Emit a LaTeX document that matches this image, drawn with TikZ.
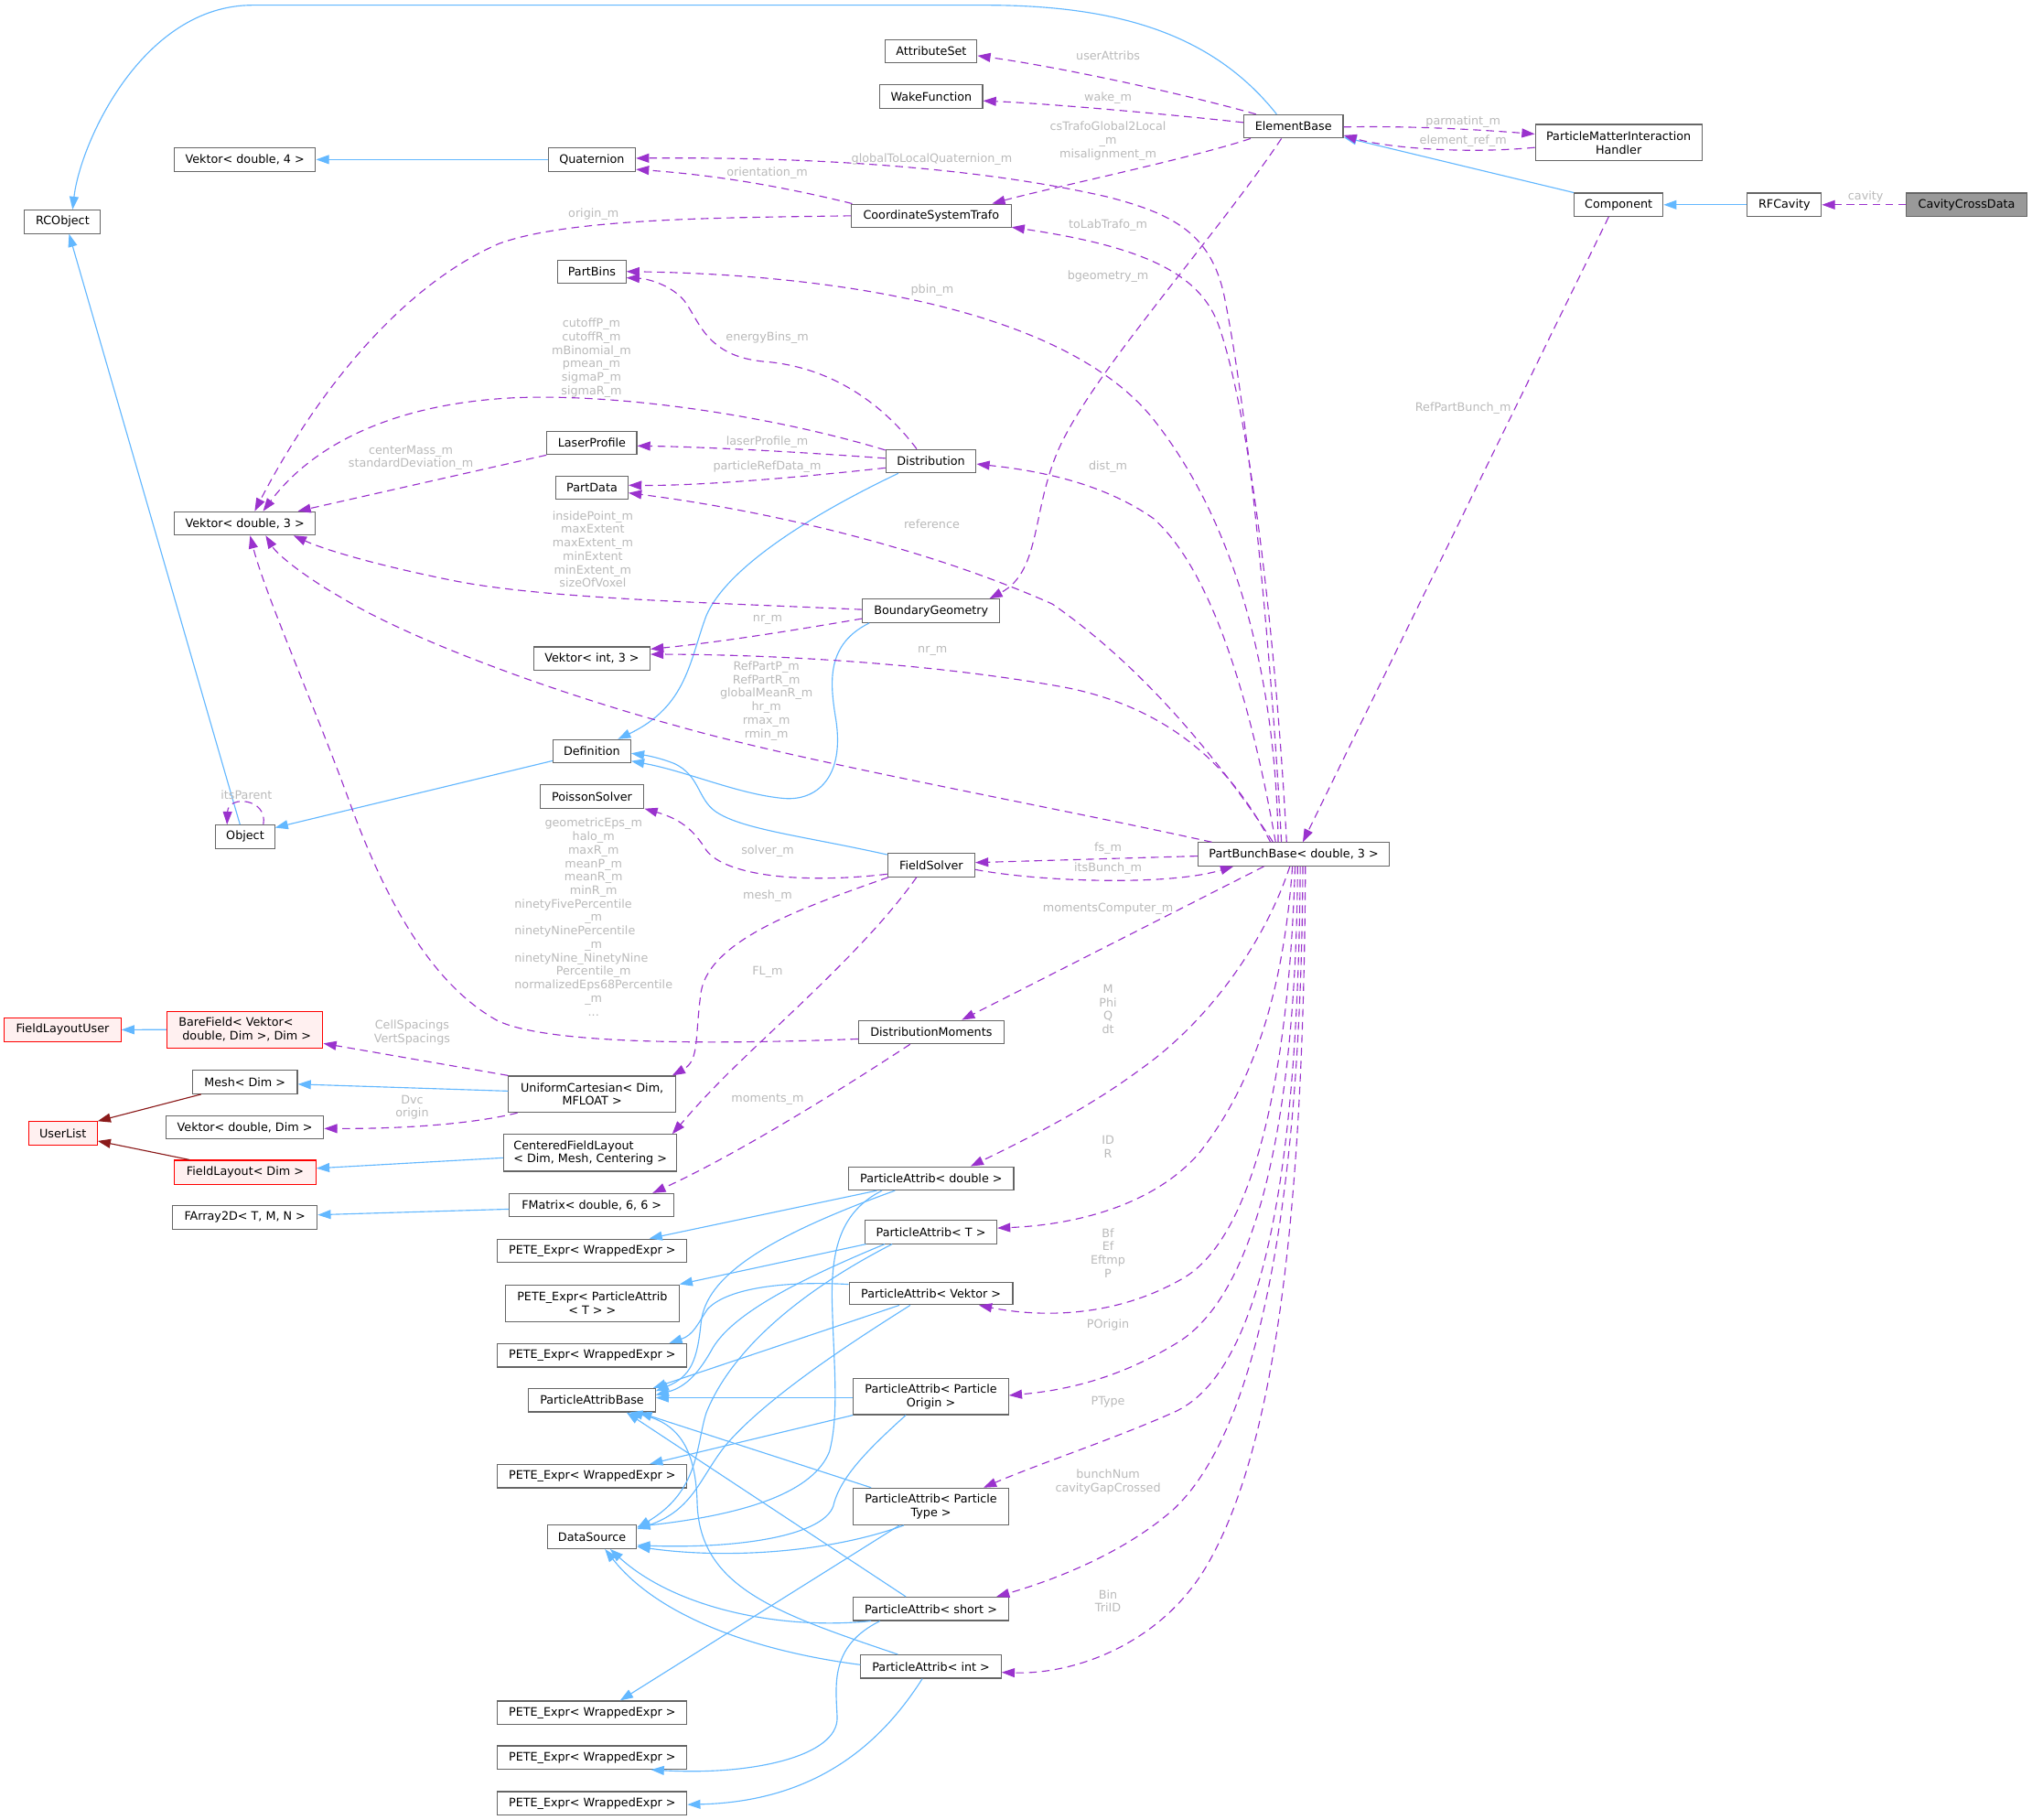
\documentclass[tikz,border=0pt]{standalone}
\usepackage{fontspec}
\setmainfont{DejaVu Sans}
\usetikzlibrary{arrows.meta,calc}
\newcommand{\fs}{\fontsize{9}{10.4}\selectfont}
\definecolor{nb}{HTML}{666666}
\definecolor{inh}{HTML}{63B8FF}
\definecolor{usec}{HTML}{9A32CD}
\definecolor{priv}{HTML}{8B1A1A}
\definecolor{lblc}{HTML}{BABABA}
\definecolor{redfill}{HTML}{FFF0F0}
\definecolor{ccdfill}{HTML}{999999}
\begin{document}
\begin{tikzpicture}[x=1pt,y=-1pt,
  cls/.style={draw=nb, fill=white, line width=0.8pt, inner sep=0pt, font=\fs, text=black, align=center},
  clsred/.style={cls, draw=red, fill=redfill},
  clsgray/.style={cls, fill=ccdfill},
  lbl/.style={inner sep=0pt, font=\fs, text=lblc, align=center},
  lblplain/.style={inner sep=0pt, font=\fs, text=lblc},
  inhe/.style={draw=inh, line width=0.8pt, -{Triangle[length=10pt,width=7pt]}},
  prive/.style={draw=priv, line width=0.8pt, -{Triangle[length=10pt,width=7pt]}},
  usee/.style={draw=usec, line width=0.8pt, dash pattern=on 6pt off 4pt, -{Triangle[length=10pt,width=7pt]}}
]
\fill[white] (0,0) rectangle (1568,1404);
\useasboundingbox (0,0) rectangle (1568,1404);

% ---------- nodes ----------
\node[cls, minimum width=58.6pt, minimum height=18pt] (rco) at (48.3,171.1) {RCObject};
\node[cls, minimum width=109pt, minimum height=18pt] (v4) at (189,123.1) {Vektor< double, 4 >};
\node[cls, minimum width=67.3pt, minimum height=18pt] (quat) at (456.7,123.1) {Quaternion};
\node[cls, minimum width=70.6pt, minimum height=18pt] (attr) at (718.6,39.5) {AttributeSet};
\node[cls, minimum width=79.2pt, minimum height=18pt] (wake) at (718.6,74.4) {WakeFunction};
\node[cls, minimum width=76.6pt, minimum height=18pt] (eb) at (998.1,97.5) {ElementBase};
\node[cls, minimum width=128.6pt, minimum height=28.2pt] (pmih) at (1249,110.1) {ParticleMatterInteraction\\Handler};
\node[cls, minimum width=68.6pt, minimum height=18pt] (comp) at (1249,158) {Component};
\node[cls, minimum width=57.2pt, minimum height=18pt] (rfc) at (1376.9,158) {RFCavity};
\node[clsgray, minimum width=92.6pt, minimum height=18pt] (ccd) at (1517.5,158) {CavityCrossData};
\node[cls, minimum width=123.2pt, minimum height=18pt] (cst) at (718.6,166.5) {CoordinateSystemTrafo};
\node[cls, minimum width=52.6pt, minimum height=18pt] (pbins) at (456.7,209.8) {PartBins};
\node[cls, minimum width=69.3pt, minimum height=18pt] (laser) at (456.7,341.7) {LaserProfile};
\node[cls, minimum width=69.6pt, minimum height=18pt] (dist) at (718.4,355.8) {Distribution};
\node[cls, minimum width=55.7pt, minimum height=18pt] (pdata) at (456.8,376.4) {PartData};
\node[cls, minimum width=109pt, minimum height=18pt] (v3) at (189,403.8) {Vektor< double, 3 >};
\node[cls, minimum width=105.7pt, minimum height=18pt] (bg) at (718.5,471.3) {BoundaryGeometry};
\node[cls, minimum width=89.6pt, minimum height=18pt] (vi3) at (456.8,508.1) {Vektor< int, 3 >};
\node[cls, minimum width=60pt, minimum height=18pt] (defn) at (456.7,579.7) {Definition};
\node[cls, minimum width=80.3pt, minimum height=18pt] (poisson) at (456.8,614.5) {PoissonSolver};
\node[cls, minimum width=45.3pt, minimum height=18pt] (obj) at (189.2,645.6) {Object};
\node[cls, minimum width=67.2pt, minimum height=18pt] (fs) at (718.6,667.4) {FieldSolver};
\node[cls, minimum width=147.7pt, minimum height=18pt] (pbb) at (998.3,659.1) {PartBunchBase< double, 3 >};
\node[cls, minimum width=112pt, minimum height=18pt] (dm) at (718.6,796.3) {DistributionMoments};
\node[clsred, minimum width=90pt, minimum height=18pt] (flu) at (48.3,794.5) {FieldLayoutUser};
\node[clsred, minimum width=120.3pt, minimum height=28.3pt, align=left] (bare) at (189,794.4) {BareField< Vektor<\\\mbox{}\ double, Dim >, Dim >};
\node[cls, minimum width=80.9pt, minimum height=18pt] (mesh) at (189,834.9) {Mesh< Dim >};
\node[cls, minimum width=128.9pt, minimum height=28pt] (uc) at (456.9,844.2) {UniformCartesian< Dim,\\MFLOAT >};
\node[clsred, minimum width=53pt, minimum height=18pt] (ul) at (48.5,874.4) {UserList};
\node[cls, minimum width=121.8pt, minimum height=18pt] (vdim) at (188.9,869.7) {Vektor< double, Dim >};
\node[cls, minimum width=133.6pt, minimum height=28.3pt, align=left] (cfl) at (455.5,889.5) {CenteredFieldLayout\\< Dim, Mesh, Centering >};
\node[clsred, minimum width=109.2pt, minimum height=18.4pt] (fl) at (189.2,904.4) {FieldLayout< Dim >};
\node[cls, minimum width=127pt, minimum height=18pt] (fmat) at (456.6,929.9) {FMatrix< double, 6, 6 >};
\node[cls, minimum width=111.6pt, minimum height=18pt] (farr) at (189,939.3) {FArray2D< T, M, N >};
\node[cls, minimum width=127.2pt, minimum height=18pt] (pad) at (718.6,909.2) {ParticleAttrib< double >};
\node[cls, minimum width=146pt, minimum height=18pt] (pete1) at (457,965) {PETE\_Expr< WrappedExpr >};
\node[cls, minimum width=101.6pt, minimum height=18pt] (pat) at (718.4,950.5) {ParticleAttrib< T >};
\node[cls, minimum width=134pt, minimum height=28.3pt] (petepat) at (457,1005.4) {PETE\_Expr< ParticleAttrib\\< T > >};
\node[cls, minimum width=126.3pt, minimum height=17.5pt] (pav) at (718.4,997.9) {ParticleAttrib< Vektor >};
\node[cls, minimum width=146pt, minimum height=18pt] (pete2) at (457,1045.7) {PETE\_Expr< WrappedExpr >};
\node[cls, minimum width=97.6pt, minimum height=18pt] (pab) at (456.8,1080.3) {ParticleAttribBase};
\node[cls, minimum width=119.6pt, minimum height=27.7pt] (pao) at (718.4,1077.6) {ParticleAttrib< Particle\\Origin >};
\node[cls, minimum width=146pt, minimum height=18pt] (pete3) at (457,1138.9) {PETE\_Expr< WrappedExpr >};
\node[cls, minimum width=119.6pt, minimum height=28.3pt] (patype) at (718.4,1162.3) {ParticleAttrib< Particle\\Type >};
\node[cls, minimum width=68.9pt, minimum height=18pt] (ds) at (456.8,1185.8) {DataSource};
\node[cls, minimum width=119.6pt, minimum height=18pt] (pas) at (718.4,1241.3) {ParticleAttrib< short >};
\node[cls, minimum width=108.3pt, minimum height=18pt] (pai) at (718.4,1285.8) {ParticleAttrib< int >};
\node[cls, minimum width=146pt, minimum height=18pt] (pete4) at (457,1321.4) {PETE\_Expr< WrappedExpr >};
\node[cls, minimum width=146pt, minimum height=18pt] (pete5) at (457,1356) {PETE\_Expr< WrappedExpr >};
\node[cls, minimum width=146pt, minimum height=18pt] (pete6) at (457,1391.3) {PETE\_Expr< WrappedExpr >};

% ---------- inheritance (blue) ----------
\draw[inhe] ($(eb.north)+(-13,0)$) .. controls (935,25) and (860,4) .. (760,4) -- (195,4) .. controls (110,4) and (62,110) .. ($(rco.north)+(7.7,0)$);
\draw[inhe] ($(obj.north)+(-4,0)$) -- ($(rco.south)+(5,0)$);
\draw[inhe] (quat.west) -- (v4.east);
\draw[inhe] (comp.north west) -- ($(eb.south east)+(0,-1)$);
\draw[inhe] (rfc.west) -- (comp.east);
\draw[inhe] ($(dist.south west)+(10,0)$) .. controls (620,400) and (560,440) .. (545,475) .. controls (532,510) and (530,545) .. ($(defn.north)+(20,0)$);
\draw[inhe] ($(bg.south west)+(5.5,0)$) .. controls (638,497) and (640,525) .. (645,555) .. controls (652,600) and (630,618) .. (605,616) .. controls (570,613) and (530,595) .. ($(defn.east)+(0,7.5)$);
\draw[inhe] ($(fs.west)+(0,-8)$) .. controls (620,645) and (572,640) .. (552,626) .. controls (538,616) and (540,598) .. (520,589) .. controls (510,585) and (500,583) .. ($(defn.east)+(0,1.5)$);
\draw[inhe] ($(defn.west)+(0,7.3)$) -- ($(obj.east)+(0,-7)$);
\draw[inhe] (bare.west) -- (flu.east);
\draw[inhe] ($(uc.west)+(0,-2.4)$) -- ($(mesh.east)+(0,1.6)$);
\draw[inhe] ($(cfl.west)+(0,3.8)$) -- ($(fl.east)+(0,-3)$);
\draw[inhe] ($(fmat.west)+(0,3)$) -- ($(farr.east)+(0,-2)$);
\draw[prive] ($(mesh.south west)+(7,0)$) -- (ul.north east);
\draw[prive] ($(fl.north west)+(12,0)$) -- ($(ul.east)+(0,5.9)$);

% particle attrib tangle
\draw[inhe] ($(pad.south)+(-42,0)$) -- ($(pete1.north)+(44,0)$);
\draw[inhe] ($(pad.south)+(-28,0)$) .. controls (590,955) and (545,985) .. (541,1020) .. controls (538,1050) and (533,1062) .. ($(pab.east)+(0,-7)$);
\draw[inhe] ($(pad.south)+(-38,0)$) .. controls (648,935) and (642,965) .. (642,1000) .. controls (643,1050) and (648,1090) .. (640,1120) .. controls (628,1150) and (580,1168) .. ($(ds.east)+(0,-8)$);
\draw[inhe] ($(pat.south west)+(1,0)$) -- (petepat.north east);
\draw[inhe] ($(pat.south)+(-35.7,0)$) .. controls (610,990) and (565,1015) .. (550,1040) .. controls (540,1058) and (530,1070) .. ($(pab.east)+(0,-4)$);
\draw[inhe] ($(pat.south)+(-30,0)$) .. controls (620,995) and (565,1040) .. (545,1090) .. controls (537,1115) and (540,1150) .. ($(ds.east)+(0,-7)$);
\draw[inhe] ($(pav.west)+(0,-7)$) .. controls (600,988) and (560,995) .. (546,1010) .. controls (538,1022) and (535,1030) .. ($(pete2.north east)+(-14,0)$);
\draw[inhe] ($(pav.south)+(-24.4,0)$) -- ($(pab.north east)+(-2,0)$);
\draw[inhe] ($(pav.south)+(-16,0)$) .. controls (650,1040) and (590,1080) .. (560,1115) .. controls (540,1140) and (535,1165) .. ($(ds.east)+(0,-6)$);
\draw[inhe] (pao.south west) -- ($(pete3.north east)+(-29,0)$);
\draw[inhe] ($(pao.west)+(0,0.8)$) -- ($(pab.east)+(0,-1.9)$);
\draw[inhe] ($(pao.south)+(-19.4,0)$) .. controls (670,1118) and (648,1140) .. (643,1162) .. controls (635,1185) and (570,1195) .. ($(ds.east)+(0,6.5)$);
\draw[inhe] ($(patype.south)+(-24.4,0)$) -- ($(pete4.north)+(21.5,0)$);
\draw[inhe] ($(patype.north west)+(14,0)$) -- ($(pab.south east)+(-13,0)$);
\draw[inhe] ($(patype.south)+(-21,0)$) .. controls (640,1198) and (560,1203) .. ($(ds.east)+(0,7.5)$);
\draw[inhe] ($(pas.south)+(-39.4,0)$) .. controls (640,1270) and (645,1300) .. (646,1325) .. controls (647,1355) and (580,1370) .. ($(pete5.south east)+(-28,0)$);
\draw[inhe] ($(pas.north)+(-19.4,0)$) -- ($(pab.south east)+(-22.6,0)$);
\draw[inhe] ($(pas.south west)+(14,0)$) .. controls (600,1258) and (520,1240) .. ($(ds.south)+(14,0)$);
\draw[inhe] ($(pai.south)+(-6.7,0)$) .. controls (680,1345) and (630,1390) .. ($(pete6.east)+(0,1)$);
\draw[inhe] ($(pai.north)+(-25.6,0)$) .. controls (600,1245) and (540,1225) .. (538,1160) .. controls (537,1120) and (525,1098) .. ($(pab.south)+(29,0)$);
\draw[inhe] ($(pai.west)+(0,-1.4)$) .. controls (590,1275) and (510,1250) .. ($(ds.south)+(10,0)$);

% ---------- usage (purple dashed) ----------
\draw[usee] ($(eb.north)+(-29,0)$) .. controls (920,74) and (820,52) .. ($(attr.east)+(0,3.5)$);
\draw[usee] ($(eb.west)+(0,-3)$) .. controls (900,88) and (810,80) .. ($(wake.east)+(0,3.4)$);
\draw[usee] ($(eb.south west)+(5.6,0)$) .. controls (920,122) and (810,145) .. ($(cst.north)+(47,0)$);
\draw[usee] ($(eb.east)+(0,0.5)$) .. controls (1090,97) and (1140,100) .. ($(pmih.west)+(0,-6.7)$);
\draw[usee] ($(pmih.west)+(0,3.7)$) .. controls (1130,119) and (1070,114) .. ($(eb.south east)+(0,-2.5)$);
\draw[usee] (ccd.west) -- (rfc.east);
\draw[usee] ($(eb.south)+(-9.3,0)$) .. controls (940,180) and (850,280) .. (820,340) .. controls (795,390) and (805,440) .. ($(bg.north)+(45,0)$);
\draw[usee] ($(comp.south)+(-7.7,0)$) -- ($(pbb.north)+(7,0)$);
\draw[usee] ($(pbb.north)+(-9.5,0)$) .. controls (982,520) and (965,330) .. (945,230) .. controls (935,180) and (905,165) .. (855,152) .. controls (750,128) and (620,121) .. ($(quat.east)+(0,-1)$);
\draw[usee] ($(cst.north west)+(1,0)$) .. controls (600,143) and (550,135) .. ($(quat.east)+(0,7.6)$);
\draw[usee] (cst.west) .. controls (560,168) and (440,168) .. (385,188) .. controls (300,225) and (235,320) .. ($(v3.north)+(7.5,0)$);
\draw[usee] ($(pbb.north)+(-5.5,0)$) .. controls (985,500) and (965,320) .. (940,250) .. controls (925,210) and (880,190) .. ($(cst.east)+(0,8.8)$);
\draw[usee] ($(pbb.north)+(-12,0)$) .. controls (985,560) and (968,420) .. (888,321) .. controls (820,240) and (650,212) .. ($(pbins.east)+(0,-0.3)$);
\draw[usee] ($(dist.north)+(-11,0)$) .. controls (680,310) and (640,283) .. (590,279) .. controls (545,275) and (540,248) .. (528,232) .. controls (518,220) and (500,215) .. ($(pbins.east)+(0,4.5)$);
\draw[usee] ($(dist.west)+(0,-8.5)$) .. controls (600,322) and (480,303) .. (395,307) .. controls (300,312) and (240,345) .. ($(v3.north)+(14,0)$);
\draw[usee] ($(dist.west)+(0,-2.2)$) .. controls (620,349) and (550,345) .. ($(laser.east)+(0,2.3)$);
\draw[usee] ($(dist.west)+(0,5.2)$) .. controls (620,368) and (540,375) .. ($(pdata.east)+(0,-2)$);
\draw[usee] (laser.south west) -- ($(v3.north)+(40.8,0)$);
\draw[usee] ($(pbb.north)+(-14,0)$) .. controls (965,540) and (935,440) .. (890,400) .. controls (850,372) and (800,363) .. ($(dist.east)+(0,2.2)$);
\draw[usee] ($(pbb.north)+(-16,0)$) .. controls (950,600) and (890,520) .. (812,466) .. controls (720,425) and (600,395) .. ($(pdata.east)+(0,3.9)$);
\draw[usee] ($(bg.west)+(0,-1)$) .. controls (550,465) and (420,462) .. (350,448) .. controls (290,436) and (250,424) .. ($(v3.south)+(37.5,0)$);
\draw[usee] ($(bg.west)+(0,6)$) .. controls (620,485) and (560,495) .. ($(vi3.east)+(0,-7.3)$);
\draw[usee] ($(pbb.north)+(-18,0)$) .. controls (950,590) and (900,545) .. (820,530) .. controls (720,512) and (600,505) .. ($(vi3.east)+(0,-3.3)$);
\draw[usee] ($(pbb.north west)+(11,0)$) .. controls (800,620) and (620,588) .. (522,560) .. controls (430,535) and (320,495) .. (265,462) .. controls (235,445) and (214,428) .. ($(v3.south)+(16,0)$);
\draw[usee] ($(fs.west)+(0,7)$) .. controls (620,682) and (560,676) .. (545,656) .. controls (535,640) and (525,632) .. (poisson.south east);
\draw[usee] ($(pbb.west)+(0,1.4)$) -- ($(fs.east)+(0,-1.9)$);
\draw[usee] ($(fs.east)+(0,3.5)$) .. controls (800,680) and (900,684) .. ($(pbb.south west)+(27.7,0)$);
\draw[usee] ($(fs.south west)+(1,0)$) .. controls (620,700) and (548,725) .. (541,765) .. controls (536,800) and (540,818) .. ($(uc.north east)+(-3,0)$);
\draw[usee] ($(fs.south)+(-11.3,0)$) .. controls (670,730) and (600,790) .. (560,830) .. controls (540,850) and (530,862) .. ($(cfl.north east)+(-4,0)$);
\draw[usee] ($(pbb.south)+(-23,0)$) -- ($(dm.north)+(23.6,0)$);
\draw[usee] ($(dm.west)+(0,5.3)$) .. controls (550,806) and (420,806) .. (383,787) .. controls (335,760) and (300,700) .. (272,625) .. controls (245,550) and (205,460) .. ($(v3.south)+(4,0)$);
\draw[usee] (uc.north west) -- ($(bare.south east)+(0,-3.9)$);
\draw[usee] ($(uc.south west)+(7.3,0)$) .. controls (370,866) and (320,871) .. ($(vdim.east)+(0,1)$);
\draw[usee] ($(dm.south)+(-16.3,0)$) .. controls (650,840) and (570,890) .. ($(fmat.north)+(47,0)$);
\draw[usee] ($(pbb.south)+(-3,0)$) .. controls (975,730) and (930,790) .. (880,825) .. controls (840,855) and (790,880) .. ($(pad.north)+(30.3,0)$);
\draw[usee] ($(pbb.south)+(-1,0)$) .. controls (990,770) and (965,840) .. (925,890) .. controls (890,930) and (830,945) .. ($(pat.east)+(0,-3)$);
\draw[usee] ($(pbb.south)+(1,0)$) .. controls (995,820) and (970,950) .. (915,985) .. controls (860,1018) and (800,1016) .. ($(pav.south)+(37,0)$);
\draw[usee] ($(pbb.south)+(3,0)$) .. controls (1000,880) and (965,1000) .. (910,1035) .. controls (870,1060) and (830,1072) .. ($(pao.east)+(0,-1)$);
\draw[usee] ($(pbb.south)+(5,0)$) .. controls (1002,900) and (975,1060) .. (905,1090) .. controls (860,1110) and (800,1130) .. ($(patype.north)+(40.5,0)$);
\draw[usee] ($(pbb.south)+(7,0)$) .. controls (1004,950) and (965,1110) .. (905,1165) .. controls (865,1200) and (810,1220) .. ($(pas.north)+(50.5,0)$);
\draw[usee] ($(pbb.south)+(9,0)$) .. controls (1006,900) and (990,1110) .. (930,1210) .. controls (895,1268) and (830,1292) .. ($(pai.east)+(0,4.5)$);
\draw[usee] ($(obj.north)+(14,0)$) .. controls (207,616) and (176,613) .. ($(obj.north)+(-14,0)$);

% ---------- labels ----------
\node[lbl] (l1) at (855,43.1) {userAttribs};
\node[lbl] (l2) at (855,76) {wake\_m};
\node[lbl] (l3) at (855,109) {csTrafoGlobal2Local\\\_m\\misalignment\_m};
\node[lbl] (l4) at (1129,94.2) {parmatint\_m};
\node[lbl] (l5) at (1129,109) {element\_ref\_m};
\node[lbl] (l6) at (1439.6,152) {cavity};
\node[lbl] (l7) at (1129,315) {RefPartBunch\_m};
\node[lbl] (l8) at (719,123.3) {globalToLocalQuaternion\_m};
\node[lbl] (l9) at (592,133.7) {orientation\_m};
\node[lbl] (l10) at (458,165) {origin\_m};
\node[lbl] (l11) at (855,174) {toLabTrafo\_m};
\node[lbl] (l12) at (855,213) {bgeometry\_m};
\node[lbl] (l13) at (719.3,223.7) {pbin\_m};
\node[lbl] (l14) at (592,260.6) {energyBins\_m};
\node[lbl] (l15) at (456.4,276.2) {cutoffP\_m\\cutoffR\_m\\mBinomial\_m\\pmean\_m\\sigmaP\_m\\sigmaR\_m};
\node[lbl] (l16) at (592,341) {laserProfile\_m};
\node[lbl] (l17) at (592,360.4) {particleRefData\_m};
\node[lbl] (l18) at (855,360.4) {dist\_m};
\node[lbl] (l19) at (317,353.2) {centerMass\_m\\standardDeviation\_m};
\node[lbl] (l20) at (719,404.4) {reference};
\node[lbl] (l21) at (457.4,423.8) {insidePoint\_m\\maxExtent\\maxExtent\_m\\minExtent\\minExtent\_m\\sizeOfVoxel};
\node[lbl] (l22) at (592.3,478.4) {nr\_m};
\node[lbl] (l23) at (719.6,502.5) {nr\_m};
\node[lbl] (l24) at (591.4,540.7) {RefPartP\_m\\RefPartR\_m\\globalMeanR\_m\\hr\_m\\rmax\_m\\rmin\_m};
\node[lbl] (l25) at (190.2,613.6) {itsParent};
\node[lblplain] (l26) at (458,708.8) {\begin{tabular}{@{}c@{}}geometricEps\_m\\halo\_m\\maxR\_m\\meanP\_m\\meanR\_m\\minR\_m\\\multicolumn{1}{@{}l@{}}{ninetyFivePercentile}\\\_m\\\multicolumn{1}{@{}l@{}}{ninetyNinePercentile}\\\_m\\\multicolumn{1}{@{}l@{}}{ninetyNine\_NinetyNine}\\Percentile\_m\\normalizedEps68Percentile\\\_m\\...\end{tabular}};
\node[lbl] (l27) at (592.3,657) {solver\_m};
\node[lbl] (l28) at (855,654.6) {fs\_m};
\node[lbl] (l29) at (855,670) {itsBunch\_m};
\node[lbl] (l30) at (592.3,691) {mesh\_m};
\node[lbl] (l31) at (855,701.2) {momentsComputer\_m};
\node[lbl] (l32) at (592.3,750.3) {FL\_m};
\node[lbl] (l33) at (855,778.7) {M\\Phi\\Q\\dt};
\node[lbl] (l34) at (318,796.6) {CellSpacings\\VertSpacings};
\node[lbl] (l35) at (592.3,848.2) {moments\_m};
\node[lbl] (l36) at (318,854.3) {Dvc\\origin};
\node[lbl] (l37) at (855,884.9) {ID\\R};
\node[lbl] (l38) at (855,966.8) {Bf\\Ef\\Eftmp\\P};
\node[lbl] (l39) at (855,1021.9) {POrigin};
\node[lbl] (l40) at (855,1081.6) {PType};
\node[lbl] (l41) at (855,1143.2) {bunchNum\\cavityGapCrossed};
\node[lbl] (l42) at (855,1235.2) {Bin\\TriID};
\end{tikzpicture}
\end{document}
